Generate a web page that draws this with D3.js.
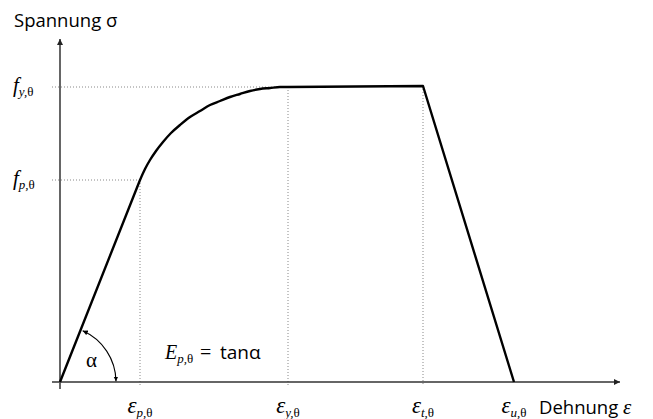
<!DOCTYPE html>
<html><head><meta charset="utf-8">
<script src="https://cdn.jsdelivr.net/npm/d3@7"></script>
<style>body{margin:0;background:#fff}svg{display:block}</style>
</head><body>
<svg id="c" width="653" height="419"></svg>
<script>
// Strain positions (abstract units) of the characteristic points
const strainLabels = [
  {name: "p", x: 80},
  {name: "y", x: 228},
  {name: "t", x: 363},
  {name: "u", x: 454}
];
// Stress levels (abstract units)
const stressLabels = [
  {name: "y", y: 295},
  {name: "p", y: 202}
];
// Stress-strain curve (strain, stress)
const linearStrain = [0, 80];
const linearStress = [0, 202];
const ellipseStrain = [80, 85, 90, 96, 103, 111, 120, 130, 140, 150, 160, 170, 180, 190, 200, 210, 220, 228];
const ellipseStress = [202, 213, 222, 231, 240, 249, 257, 265, 271, 277, 281, 285, 288, 291, 293, 294, 295, 295];
const plateauStrain = [228, 363, 454];
const plateauStress = [295, 296, 0];

const svg = d3.select("#c");
const x = d3.scaleLinear().domain([0, 560]).range([60, 620]);
const y = d3.scaleLinear().domain([0, 343]).range([382, 39]);

const defs = svg.append("defs");
defs.append("marker").attr("id","ax").attr("viewBox","0 0 10 10").attr("refX",10).attr("refY",5)
  .attr("markerWidth",8).attr("markerHeight",6).attr("markerUnits","userSpaceOnUse").attr("orient","auto")
  .append("path").attr("d","M0,0L10,5L0,10z").attr("fill","#222");
defs.append("marker").attr("id","sm").attr("viewBox","0 0 10 10").attr("refX",10).attr("refY",5)
  .attr("markerWidth",6).attr("markerHeight",5).attr("markerUnits","userSpaceOnUse").attr("orient","auto-start-reverse")
  .append("path").attr("d","M0,0L10,5L0,10z").attr("fill","#000");

const dot = {stroke:"#888", "stroke-width":1, "stroke-dasharray":"1,2"};
function applyAttrs(sel, o){ for (const k in o) sel.attr(k, o[k]); return sel; }

// dotted guides
stressLabels.forEach(s => {
  const xe = s.name === "y" ? strainLabels[1].x : strainLabels[0].x;
  applyAttrs(svg.append("line").attr("x1", x(0)-8).attr("x2", x(xe)).attr("y1", y(s.y)).attr("y2", y(s.y)), dot);
});
[[strainLabels[0].x, 202],[strainLabels[1].x, 295],[strainLabels[2].x, 296]].forEach(([sx, sy]) => {
  applyAttrs(svg.append("line").attr("x1", x(sx)).attr("x2", x(sx)).attr("y1", y(sy)).attr("y2", y(0)+3), dot);
});

// axes
svg.append("line").attr("x1", x(0)-8).attr("x2", x(560)).attr("y1", y(0)).attr("y2", y(0))
  .attr("stroke","#333").attr("stroke-width",1.6).attr("marker-end","url(#ax)");
svg.append("line").attr("x1", x(0)).attr("x2", x(0)).attr("y1", y(0)+7).attr("y2", y(343))
  .attr("stroke","#555").attr("stroke-width",1.8).attr("marker-end","url(#ax)");

// curve
const zip = (a,b) => a.map((e,i)=>[e,b[i]]);
const lineLin = d3.line().x(d=>x(d[0])).y(d=>y(d[1]));
const lineCurve = d3.line().x(d=>x(d[0])).y(d=>y(d[1])).curve(d3.curveMonotoneX);
const pathStr = lineLin(zip(linearStrain, linearStress)) +
  lineCurve(zip(ellipseStrain, ellipseStress)).replace(/^M/, "L") +
  lineLin(zip(plateauStrain, plateauStress)).replace(/^M/, "L");
svg.append("path").attr("d", pathStr)
  .attr("fill","none").attr("stroke","#000").attr("stroke-width",2.4).attr("stroke-linejoin","round");

// angle arc
const r = 56, ang = Math.atan2(202, 80);
const arcPath = d3.path();
arcPath.arc(x(0), y(0), r, -ang + 0.04, -0.015, false);
svg.append("path").attr("d", arcPath.toString()).attr("fill","none").attr("stroke","#000").attr("stroke-width",1.1)
  .attr("marker-start","url(#sm)").attr("marker-end","url(#sm)");

const serif = "'Liberation Serif', 'DejaVu Serif', serif";
const sans = "'Open Sans', 'Noto Sans', sans-serif";

svg.append("text").attr("x",14).attr("y",27).attr("font-family",sans).attr("font-size",18.5).text("Spannung σ");

// y labels
stressLabels.forEach(s => {
  const t = svg.append("text").attr("x",13).attr("y", y(s.y)+5).attr("font-family",serif).attr("font-size",21);
  t.append("tspan").attr("font-style","italic").text("f");
  t.append("tspan").attr("font-size",13).attr("dy",4).attr("font-style","italic").text(s.name + ",");
  t.append("tspan").attr("font-size",13).text("θ");
});

// x labels
strainLabels.forEach(s => {
  const t = svg.append("text").attr("x", x(s.x)).attr("y", 413).attr("text-anchor","middle").attr("font-family",serif).attr("font-size",23);
  t.append("tspan").attr("font-style","italic").text("ε");
  t.append("tspan").attr("font-size",13).attr("dy",4).attr("font-style","italic").text(s.name + ",");
  t.append("tspan").attr("font-size",13).text("θ");
});

const dl = svg.append("text").attr("x",539).attr("y",414).attr("font-family",sans).attr("font-size",18.5);
dl.append("tspan").text("Dehnung ");
dl.append("tspan").attr("font-family",serif).attr("font-style","italic").attr("font-size",21).text("ε");

svg.append("text").attr("x",86).attr("y",367).attr("font-family",serif).attr("font-size",21).text("α");

const et = svg.append("text").attr("x",165).attr("y",359).attr("font-family",serif).attr("font-size",20);
et.append("tspan").attr("font-style","italic").text("E");
et.append("tspan").attr("font-size",13).attr("dy",4).attr("font-style","italic").text("p,");
et.append("tspan").attr("font-size",13).text("θ");
et.append("tspan").attr("dy",-4).attr("x",200).text("=");
et.append("tspan").attr("x",220).attr("font-family",sans).attr("font-size",19).text("tanα");
</script>
</body></html>
